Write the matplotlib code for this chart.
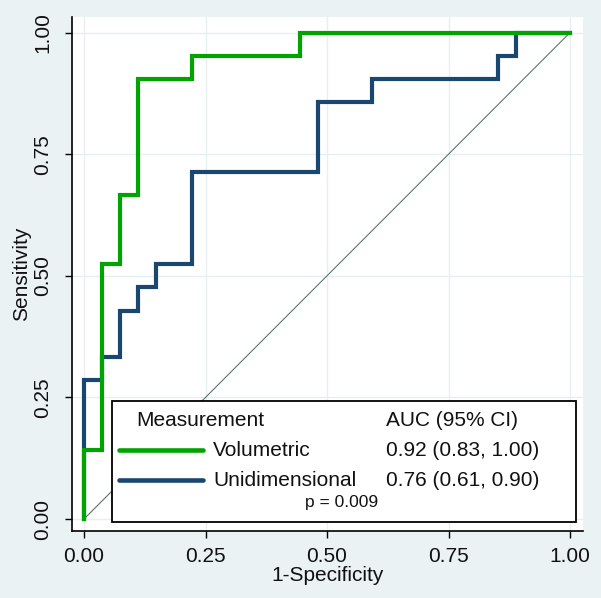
import matplotlib
matplotlib.use("Agg")
import matplotlib.pyplot as plt
from matplotlib.patches import Rectangle
from matplotlib.lines import Line2D

# ROC step points (1-Specificity, Sensitivity); 27 negatives, 21 positives
vol_fpr = [0, 0, 1/27, 1/27, 2/27, 2/27, 3/27, 3/27, 6/27, 6/27, 12/27, 12/27, 1]
vol_tpr = [0, 3/21, 3/21, 11/21, 11/21, 14/21, 14/21, 19/21, 19/21, 20/21, 20/21, 1, 1]

uni_fpr = [0, 0, 1/27, 1/27, 2/27, 2/27, 3/27, 3/27, 4/27, 4/27, 6/27, 6/27,
           13/27, 13/27, 16/27, 16/27, 23/27, 23/27, 24/27, 24/27, 1]
uni_tpr = [0, 6/21, 6/21, 7/21, 7/21, 9/21, 9/21, 10/21, 10/21, 11/21, 11/21, 15/21,
           15/21, 18/21, 18/21, 19/21, 19/21, 20/21, 20/21, 1, 1]

ref_x = [0, 1]
ref_y = [0, 1]

ticks = [0, 0.25, 0.5, 0.75, 1.0]
tick_labels = ["0.00", "0.25", "0.50", "0.75", "1.00"]

series_names = ["Volumetric", "Unidimensional"]
auc_labels = ["0.92 (0.83, 1.00)", "0.76 (0.61, 0.90)"]
p_label = "p = 0.009"

GREEN = "#00A400"
NAVY = "#1A476F"
BG = "#EAF2F3"
GRID = "#E8EFF1"

plt.rcParams['font.family'] = ['Liberation Sans', 'DejaVu Sans']

fig = plt.figure(figsize=(6.01, 5.98), dpi=100)
fig.patch.set_facecolor(BG)
ax = fig.add_axes([72/601, 1 - 530.7/598, (583-72)/601, (530.7-17)/598])
ax.set_facecolor("white")

ax.set_xlim(-0.0247, 1.0267)
ax.set_ylim(-0.024, 1.032)

ax.set_xticks(ticks)
ax.set_xticklabels(tick_labels)
ax.set_yticks(ticks)
ax.set_yticklabels(tick_labels, rotation=90, va="center")
ax.grid(True, color=GRID, lw=1.0, zorder=0)
ax.set_axisbelow(True)

for s in ["top", "right"]:
    ax.spines[s].set_visible(False)
for s in ["left", "bottom"]:
    ax.spines[s].set_color("black")
    ax.spines[s].set_linewidth(1.2)

ax.tick_params(axis="both", length=5, width=1.0, color="black", labelsize=15, labelcolor="#111111")
ax.tick_params(axis="x", pad=7)
ax.tick_params(axis="y", pad=9)

ax.plot(ref_x, ref_y, color="#557A6E", lw=0.8, zorder=2)
ax.plot(uni_fpr, uni_tpr, color=NAVY, lw=3, solid_joinstyle="miter", zorder=3)
ax.plot(vol_fpr, vol_tpr, color=GREEN, lw=3, solid_joinstyle="miter", zorder=4)

ax.set_xlabel("1-Specificity", fontsize=15, labelpad=0, color="#111111")
ax.set_ylabel("Sensitivity", fontsize=15, labelpad=2, color="#111111")

# legend box (axes fraction coordinates)
def fx(px):
    return (px - 72) / 511

def fy(py):
    return (530.7 - py) / 513.7

box = Rectangle((fx(111.7), fy(522.3)), fx(576) - fx(111.7), fy(401) - fy(522.3),
                transform=ax.transAxes, facecolor="white", edgecolor="black", lw=1.3, zorder=6)
ax.add_patch(box)

fs = 15
ax.text(fx(136), fy(421), "Measurement", transform=ax.transAxes, fontsize=fs,
        va="center", ha="left", zorder=7, color="#111111")
ax.text(fx(386), fy(421), "AUC (95% CI)", transform=ax.transAxes, fontsize=fs,
        va="center", ha="left", zorder=7, color="#111111")
for name, auc, col, py in zip(series_names, auc_labels, [GREEN, NAVY], [450, 480]):
    ax.add_line(Line2D([fx(119), fx(203)], [fy(py), fy(py)], transform=ax.transAxes,
                       color=col, lw=3.3, solid_capstyle="round", zorder=7))
    ax.text(fx(213), fy(py), name, transform=ax.transAxes, fontsize=fs,
            va="center", ha="left", zorder=7, color="#111111")
    ax.text(fx(386), fy(py), auc, transform=ax.transAxes, fontsize=fs,
            va="center", ha="left", zorder=7, color="#111111")
ax.text(fx(305), fy(502), p_label, transform=ax.transAxes, fontsize=12.5,
        va="center", ha="left", zorder=7, color="#111111")

fig.savefig("out.png", dpi=100, facecolor=BG)
